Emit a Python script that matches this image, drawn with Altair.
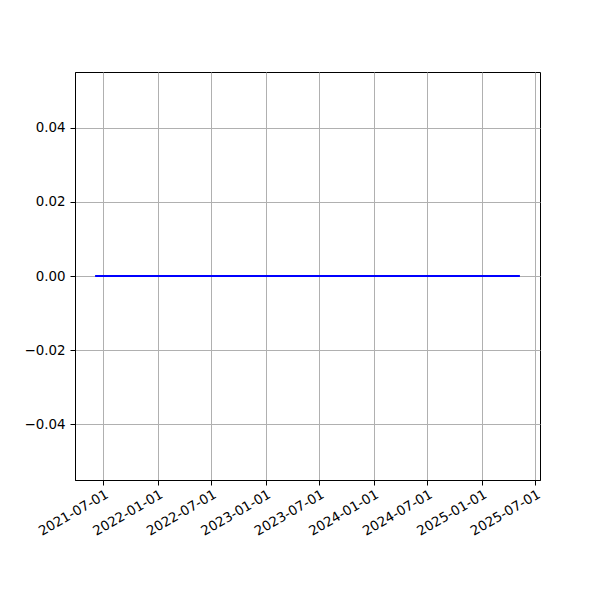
import altair as alt
import pandas as pd

dates = ["2021-06-03", "2025-05-10"]
values = [0.0, 0.0]
x_ticks = ["2021-07-01", "2022-01-01", "2022-07-01", "2023-01-01", "2023-07-01",
           "2024-01-01", "2024-07-01", "2025-01-01", "2025-07-01"]
y_ticks = [-0.04, -0.02, 0.0, 0.02, 0.04]

df = pd.DataFrame({"date": pd.to_datetime(dates), "value": values})

x_tick_vals = [alt.DateTime(year=int(d[:4]), month=int(d[5:7]), date=int(d[8:10])) for d in x_ticks]

chart = alt.Chart(df).mark_line(color="#0000ff", strokeWidth=2, clip=True).encode(
    x=alt.X("date:T",
            scale=alt.Scale(domain=[alt.DateTime(year=2021, month=3, date=27),
                                    alt.DateTime(year=2025, month=7, date=17)], nice=False),
            axis=alt.Axis(values=x_tick_vals, format="%Y-%m-%d", title=None,
                          labelAngle=-30, labelAlign="right", labelBaseline="top",
                          labelPadding=2, labelOverlap=False, labelBound=False,
                          labelFlush=False)),
    y=alt.Y("value:Q",
            scale=alt.Scale(domain=[-0.055, 0.055], nice=False, zero=False),
            axis=alt.Axis(values=y_ticks, format=".2f", title=None, labelOverlap=False,
                          labelPadding=5)),
).properties(
    width=465, height=408,
    autosize=alt.AutoSizeParams(type="none"),
    padding={"left": 67, "top": 64, "right": 52, "bottom": 112},
).configure_view(
    stroke="black", strokeWidth=1
).configure_axis(
    grid=True, gridColor="#b0b0b0", gridWidth=1,
    domain=True, domainColor="black", domainWidth=1,
    tickColor="black", tickSize=5, tickWidth=1,
    labelFont="DejaVu Sans", labelFontSize=13.4, labelColor="black",
)

chart.save("out.html", embed_options={"renderer": "svg", "actions": False})
